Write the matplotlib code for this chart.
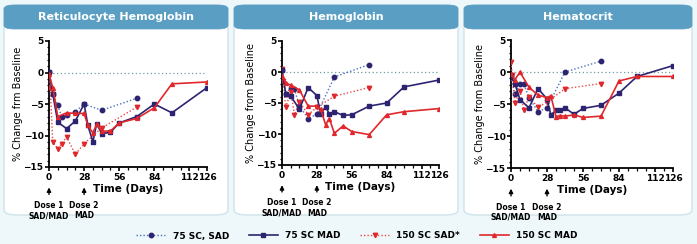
import matplotlib.pyplot as plt
from matplotlib.patches import FancyBboxPatch
from matplotlib.lines import Line2D

W, H = 697, 244

titles = ["Reticulocyte Hemoglobin", "Hemoglobin", "Hematocrit"]
ylabels = ["% Change frm Baseline", "% Change from Baseline", "% Change from Baseline"]

# days for each series
sad_days = [0, 3, 7, 10, 14, 21, 28, 42, 70]
mad_days = [0, 3, 7, 14, 21, 28, 31, 35, 38, 42, 49, 56, 70, 84, 98, 126]
sad150_days = [0, 1, 3, 7, 10, 14, 21, 28, 42, 70]

# Reticulocyte hemoglobin
ret_sad75 = [0.1, -3.4, -5.2, -7.0, -6.8, -6.2, -5.0, -6.0, -4.1]
ret_mad75 = [0.1, -3.4, -7.9, -8.9, -7.7, -5.0, -8.4, -11.0, -8.1, -9.7, -9.5, -8.0, -7.0, -5.0, -6.4, -2.4]
ret_sad150 = [-0.3, -2.4, -11.0, -12.1, -11.3, -10.2, -13.0, -11.3, -8.8, -5.5]
ret_mad150 = [-0.3, -2.4, -7.0, -6.4, -6.5, -6.5, -8.4, -9.6, -8.2, -9.3, -9.3, -8.0, -7.3, -5.6, -1.8, -1.5]

# Hemoglobin
hgb_sad75 = [0.3, -3.5, -2.6, -2.8, -5.5, -7.5, -6.8, -0.8, 1.2]
hgb_mad75 = [0.3, -3.5, -3.9, -6.0, -2.5, -3.8, -6.8, -5.6, -6.8, -6.4, -7.0, -6.9, -5.5, -5.0, -2.4, -1.3]
hgb_sad150 = [0.5, -1.5, -5.7, -3.2, -6.9, -4.8, -6.9, -5.7, -3.9, -2.5]
hgb_mad150 = [-0.6, -1.8, -2.1, -2.9, -5.5, -5.5, -6.0, -8.5, -7.5, -9.9, -8.7, -9.6, -10.1, -6.9, -6.4, -5.9]

# Hematocrit
hct_sad75 = [-0.7, -3.5, -1.8, -1.9, -4.0, -6.2, -5.6, 0.0, 1.7]
hct_mad75 = [-0.7, -1.8, -4.3, -5.6, -2.6, -4.2, -6.7, -6.0, -6.0, -5.6, -6.6, -5.7, -5.2, -3.3, -0.7, 1.0]
hct_sad150 = [1.5, -0.5, -4.8, -3.0, -5.9, -3.9, -5.5, -4.7, -2.6, -1.8]
hct_mad150 = [-0.3, -1.2, 0.0, -2.4, -3.6, -4.0, -3.7, -7.0, -6.8, -6.9, -6.7, -7.1, -6.9, -1.4, -0.7, -0.7]

panels = [
    (ret_sad75, ret_mad75, ret_sad150, ret_mad150),
    (hgb_sad75, hgb_mad75, hgb_sad150, hgb_mad150),
    (hct_sad75, hct_mad75, hct_sad150, hct_mad150),
]

blue_dot = "#4a6fc0"
navy = "#2c2470"
red = "#e0282c"
red_dot = "#e8484a"
header = "#5a9fc3"

fig = plt.figure(figsize=(W / 100, H / 100), dpi=100)
fig.patch.set_facecolor("#eef8fa")

boxes = [(4, 228), (234, 458), (464, 692)]
axes_px = [(49, 207, 41, 167), (282, 439, 41, 165), (511, 673, 40, 168)]

for i in range(3):
    bx0, bx1 = boxes[i]
    # panel body and header bar
    body = FancyBboxPatch((bx0 / W, 1 - 215 / H), (bx1 - bx0) / W, (215 - 5) / H,
                          boxstyle="round,pad=0,rounding_size=0.02", transform=fig.transFigure,
                          facecolor="white", edgecolor="#cfe3ea", lw=1.0, zorder=-2)
    fig.patches.append(body)
    head = FancyBboxPatch((bx0 / W, 1 - 29 / H), (bx1 - bx0) / W, 24 / H,
                          boxstyle="round,pad=0,rounding_size=0.015", transform=fig.transFigure,
                          facecolor=header, edgecolor=header, lw=0.5, zorder=-1)
    fig.patches.append(head)
    fig.text((bx0 + bx1) / 2 / W, 1 - 17 / H, titles[i], ha="center", va="center",
             color="white", fontsize=8, fontweight="bold")

    x0, x1, y0, y1 = axes_px[i]
    ax = fig.add_axes([x0 / W, 1 - y1 / H, (x1 - x0) / W, (y1 - y0) / H], zorder=2)
    ax.set_facecolor("none")
    sad75, mad75, sad150, mad150 = panels[i]

    ax.plot([0, 126], [0, 0], color="#6f9fa0", lw=0.9, ls=(0, (1, 2)), zorder=1)
    ax.plot(sad_days, sad75, color=blue_dot, lw=1.0, ls=(0, (1, 1.5)),
            marker="o", ms=3.2, mfc=navy, mec=navy, zorder=3)
    ax.plot(mad_days, mad75, color=navy, lw=1.2, marker="s", ms=3.2,
            mfc=navy, mec=navy, zorder=4)
    ax.plot(sad150_days, sad150, color=red_dot, lw=1.0, ls=(0, (1, 1.5)),
            marker="v", ms=3.2, mfc=red, mec=red, zorder=3)
    ax.plot(mad_days, mad150, color=red, lw=1.2, marker="^", ms=2.8,
            mfc=red, mec=red, zorder=4)

    ax.set_xlim(0, 126)
    ax.set_ylim(-15, 5)
    ax.set_xticks([0, 28, 56, 84, 112, 126])
    ax.set_yticks([-15, -10, -5, 0, 5])
    ax.set_yticks(range(-15, 6), minor=True)
    ax.set_xticks([7 * k for k in range(19)], minor=True)
    ax.spines["top"].set_visible(False)
    ax.spines["right"].set_visible(False)
    for s in ("left", "bottom"):
        ax.spines[s].set_linewidth(1.3)
    ax.tick_params(axis="both", labelsize=6.5, width=1.2, length=3, pad=1)
    ax.tick_params(which="minor", length=1.8, width=0.9)
    for lab in ax.get_xticklabels() + ax.get_yticklabels():
        lab.set_fontweight("bold")
    ax.set_xlabel("Time (Days)", fontsize=7.5, fontweight="bold", labelpad=2)
    ax.set_ylabel(ylabels[i], fontsize=7, labelpad=0.5)

    for d, txt in [(0, "Dose 1\nSAD/MAD"), (28, "Dose 2\nMAD")]:
        ax.annotate("", xy=(d, -0.14), xytext=(d, -0.24),
                    xycoords=("data", "axes fraction"), textcoords=("data", "axes fraction"),
                    arrowprops=dict(arrowstyle="-|>", color="black", lw=1.0, mutation_scale=6))
        ax.text(d, -0.27, txt, transform=ax.get_xaxis_transform(), ha="center", va="top",
                fontsize=5.5, fontweight="bold", linespacing=1.2, clip_on=False)

handles = [
    Line2D([], [], color=blue_dot, lw=1.0, ls=(0, (1, 1.5)), marker="o", ms=3.2, mfc=navy, mec=navy),
    Line2D([], [], color=navy, lw=1.2, marker="s", ms=3.2, mfc=navy, mec=navy),
    Line2D([], [], color=red_dot, lw=1.0, ls=(0, (1, 1.5)), marker="v", ms=3.2, mfc=red, mec=red),
    Line2D([], [], color=red, lw=1.2, marker="^", ms=2.8, mfc=red, mec=red),
]
labels = ["75 SC, SAD", "75 SC MAD", "150 SC SAD*", "150 SC MAD"]
leg = fig.legend(handles, labels, loc="center", bbox_to_anchor=(357 / W, 1 - 236 / H), ncol=4,
                 frameon=False, fontsize=6.5, handlelength=3.2, columnspacing=2.2, handletextpad=0.8)
for t in leg.get_texts():
    t.set_fontweight("bold")

fig.savefig("out.png", dpi=100, facecolor=fig.get_facecolor())
